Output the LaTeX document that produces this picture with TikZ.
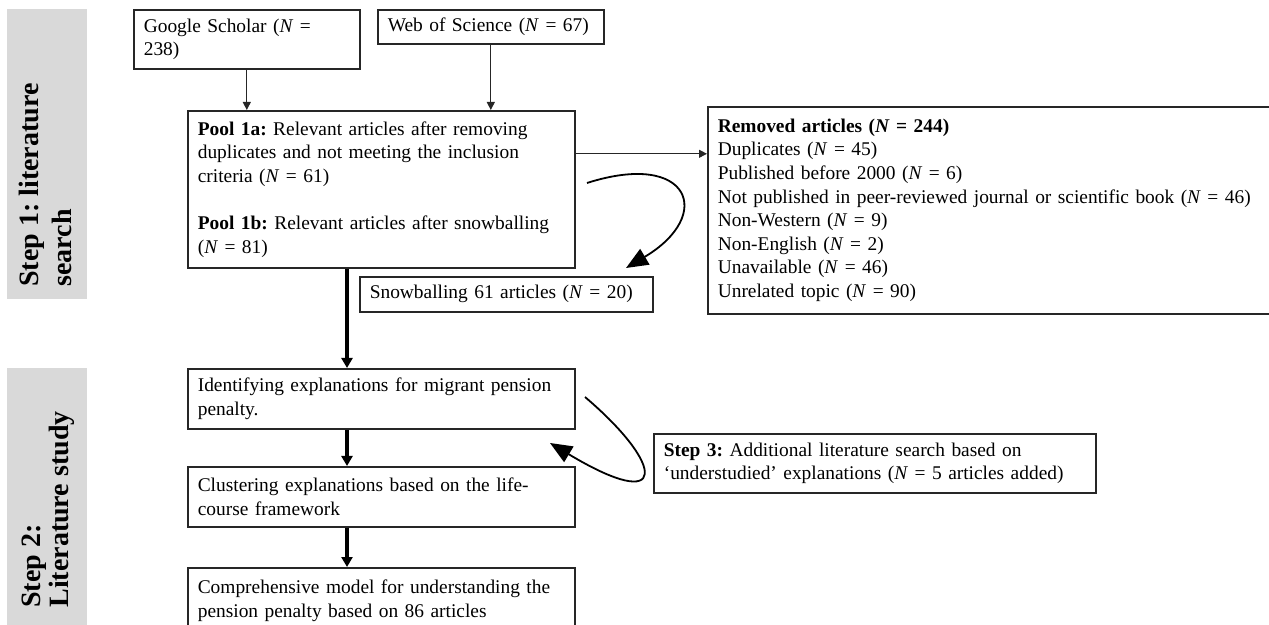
\documentclass[tikz,border=0pt]{standalone}
\usepackage{fontspec}
\setmainfont{Liberation Serif}
\usetikzlibrary{arrows.meta}
\frenchspacing
\hyphenpenalty=10000
\exhyphenpenalty=10000
\begin{document}
\begin{tikzpicture}[x=0.5pt,y=-0.5pt,
  box/.style={draw=black!85, line width=0.8pt, anchor=north west, align=left,
    inner xsep=5pt, inner ysep=0pt, font=\fontsize{9.7}{11.8}\selectfont},
  thinarrow/.style={draw=black!85, line width=0.5pt, -{Triangle[length=4pt,width=4pt]}},
  thickarrow/.style={line width=1.6pt, -{Triangle[length=5pt,width=5.5pt]}},
  curvearrow/.style={line width=0.9pt, -{Triangle[length=11pt,width=9pt]}},
  steplabel/.style={rotate=90, anchor=north west, align=left, inner sep=0pt},
  band/.style={fill=black!15, draw=none}]
\useasboundingbox (0,0) rectangle (1269,625);

% grey bands with step labels
\fill[band] (7,9) rectangle (87,299);
\fill[band] (7,368) rectangle (87,640);
\node[steplabel, font=\fontsize{14}{16.5}\selectfont\bfseries] (s1) at (19,287) {Step 1: literature\\search};
\node[steplabel, font=\fontsize{14}{14}\selectfont\bfseries] (s2) at (22,608) {Step 2:\\Literature study};

% boxes
\node[box, text width=103pt, minimum height=29.5pt] (gs) at (133,9) {Google Scholar (\textit{N} =\\238)};
\node[box, text width=103pt, minimum height=17pt] (wos) at (377,9) {Web of Science (\textit{N} = 67)};
\node[box, text width=183.5pt, minimum height=78.5pt] (pool) at (187,110)
  {\textbf{Pool 1a:} Relevant articles after removing\\duplicates and not meeting the inclusion\\criteria (\textit{N} = 61)\\[11.8pt]\textbf{Pool 1b:} Relevant articles after snowballing\\(\textit{N} = 81)};
\node[box, text width=136.5pt, minimum height=17.5pt] (snow) at (359,276) {Snowballing 61 articles (\textit{N} = 20)};
\node[box, text width=277.5pt, minimum height=103.5pt] (rem) at (707,106)
  {\textbf{Removed articles (\textit{N} = 244)}\\Duplicates (\textit{N} = 45)\\Published before 2000 (\textit{N} = 6)\\Not published in peer-reviewed journal or scientific book (\textit{N} = 46)\\Non-Western (\textit{N} = 9)\\Non-English (\textit{N} = 2)\\Unavailable (\textit{N} = 46)\\Unrelated topic (\textit{N} = 90)};
\node[box, text width=183.5pt, minimum height=30pt] (ident) at (187,368) {Identifying explanations for migrant pension\\penalty.};
\node[box, text width=183.5pt, minimum height=30pt] (clus) at (187,466) {Clustering explanations based on the life-\\course framework};
\node[box, text width=183.5pt, minimum height=33pt] (comp) at (187,567) {Comprehensive model for understanding the\\pension penalty based on 86 articles};
\node[box, text width=211pt, minimum height=29.5pt] (step3) at (653,433) {\textbf{Step 3:} Additional literature search based on\\‘understudied’ explanations (\textit{N} = 5 articles added)};

% thin arrows
\draw[thinarrow] (gs.south) -- (gs.south |- pool.north);
\draw[thinarrow] (wos.south) -- (wos.south |- pool.north);
\draw[thinarrow] ([yshift=17.75pt]pool.east) -- ([yshift=17.75pt]pool.east -| rem.west);

% thick arrows
\coordinate (tx) at (347,0);
\draw[thickarrow] (pool.south -| tx) -- (ident.north -| tx);
\draw[thickarrow] (ident.south -| tx) -- (clus.north -| tx);
\draw[thickarrow] (clus.south -| tx) -- (comp.north -| tx);

% curved arrows
\coordinate (c1) at (587,183);
\coordinate (c2) at (626,268);
\draw[curvearrow] (c1) .. controls (690,150) and (715,215) .. (c2);
\coordinate (c3) at (585,397);
\coordinate (c4) at (550,443);
\draw[curvearrow] (c3) .. controls (665,465) and (670,515) .. (c4);
\end{tikzpicture}
\end{document}
